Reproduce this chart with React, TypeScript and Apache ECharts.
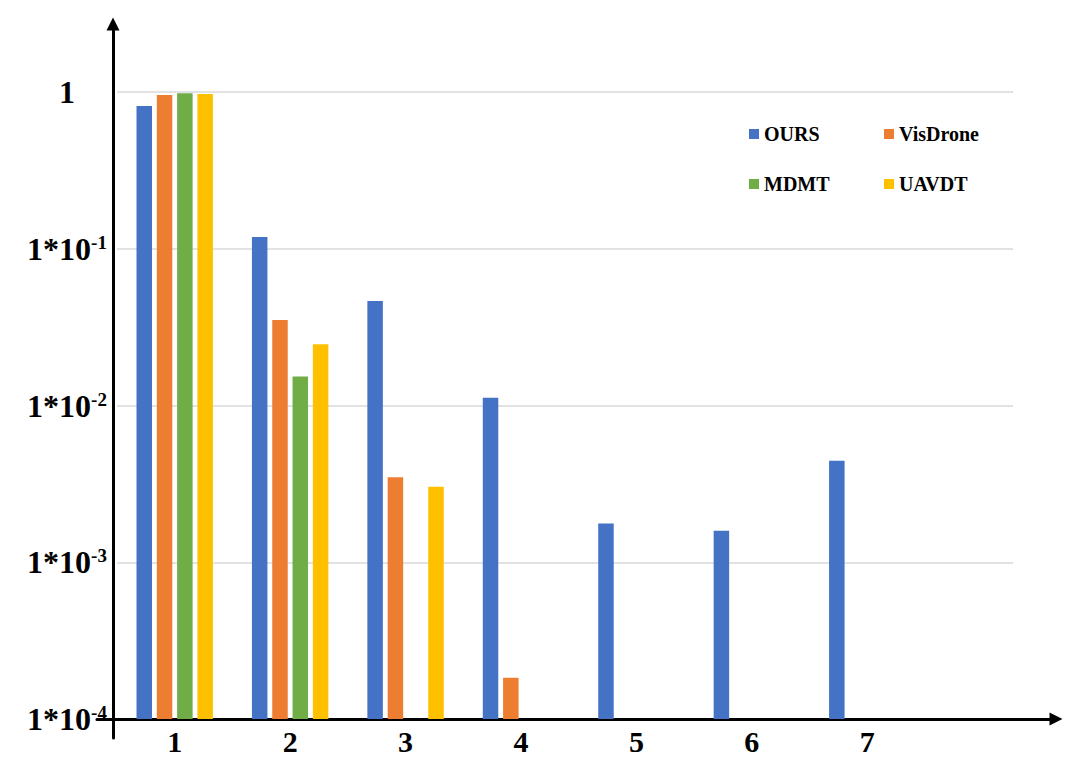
import React, { useEffect, useRef } from "react";
import * as echarts from "echarts";

const categories = ["1", "2", "3", "4", "5", "6", "7"];
const seriesNames = ["OURS", "VisDrone", "MDMT", "UAVDT"];
const oursValues = [0.814, 0.119, 0.0464, 0.0112, 0.00177, 0.00159, 0.00444];
const visdroneValues = [0.957, 0.0351, 0.00348, 0.000183, null, null, null];
const mdmtValues = [0.981, 0.0153, null, null, null, null, null];
const uavdtValues = [0.971, 0.0246, 0.00303, null, null, null, null];
const colors = ["#4472C4", "#ED7D31", "#70AD47", "#FFC000"];
const yMin = 0.0001;
const yMax = 1;

const FONT = "'Liberation Serif', 'Times New Roman', serif";

export default function App() {
  const ref = useRef<HTMLDivElement>(null);
  useEffect(() => {
    document.body.style.margin = "0";
    if (!ref.current) return;
    const chart = echarts.init(ref.current, null, { renderer: "svg" });
    const values = [oursValues, visdroneValues, mdmtValues, uavdtValues];
    const legendText = { fontFamily: FONT, fontWeight: "bold", fontSize: 20, lineHeight: 20, color: "#000" };
    const option: any = {
      animation: false,
      backgroundColor: "#fff",
      grid: [
        { left: 117, right: 155, top: 92, bottom: 51 },
        { left: 117, right: 67, top: 92, bottom: 51 },
        { left: 113, width: 1, top: 24, bottom: 32 },
        { left: 97, right: 24, top: 718, height: 1 },
      ],
      legend: [
        {
          data: ["OURS", "MDMT"],
          orient: "vertical",
          left: 749,
          top: 124,
          padding: 0,
          itemGap: 30,
          itemWidth: 10,
          itemHeight: 10,
          icon: "rect",
          selectedMode: false,
          textStyle: legendText,
        },
        {
          data: ["VisDrone", "UAVDT"],
          orient: "vertical",
          left: 884,
          top: 124,
          padding: 0,
          itemGap: 30,
          itemWidth: 10,
          itemHeight: 10,
          icon: "rect",
          selectedMode: false,
          textStyle: legendText,
        },
      ],
      xAxis: [
        {
          type: "category",
          gridIndex: 0,
          data: categories,
          axisLine: { show: false },
          axisTick: { show: false },
          axisLabel: { fontFamily: FONT, fontWeight: "bold", fontSize: 30, color: "#000", margin: 7 },
        },
        { type: "value", gridIndex: 1, min: 0, max: 1, show: false },
        { type: "value", gridIndex: 2, min: 0, max: 1, show: false },
        {
          type: "value",
          gridIndex: 3,
          min: 0,
          max: 1,
          axisLine: {
            show: true,
            symbol: ["none", "triangle"],
            symbolSize: [13, 13],
            lineStyle: { color: "#000", width: 3 },
          },
          axisTick: { show: false },
          axisLabel: { show: false },
          splitLine: { show: false },
        },
      ],
      yAxis: [
        {
          type: "log",
          gridIndex: 0,
          logBase: 10,
          min: yMin,
          max: yMax,
          startValue: yMin,
          axisLine: { show: false },
          axisTick: { show: false },
          splitLine: { show: false },
          axisLabel: {
            margin: 50,
            align: "center",
            formatter: (v: number) => {
              const e = Math.round(Math.log10(v));
              if (e === 0) return "{b|1}";
              return "{b|1*10}{s|" + e + "}";
            },
            rich: {
              b: { fontFamily: FONT, fontWeight: "bold", fontSize: 32, color: "#000", lineHeight: 32 },
              s: { fontFamily: FONT, fontWeight: "bold", fontSize: 19, color: "#000", lineHeight: 19, verticalAlign: "top" },
            },
          },
        },
        {
          type: "log",
          gridIndex: 1,
          logBase: 10,
          min: yMin,
          max: yMax,
          axisLine: { show: false },
          axisTick: { show: false },
          axisLabel: { show: false },
          splitLine: { show: true, lineStyle: { color: "#d9d9d9", width: 1.5 } },
        },
        {
          type: "value",
          gridIndex: 2,
          min: 0,
          max: 1,
          axisLine: {
            show: true,
            symbol: ["none", "triangle"],
            symbolSize: [13, 13],
            lineStyle: { color: "#000", width: 3 },
          },
          axisTick: { show: false },
          axisLabel: { show: false },
          splitLine: { show: false },
        },
        { type: "value", gridIndex: 3, min: 0, max: 1, show: false },
      ],
      series: seriesNames.map((name, i) => ({
        name,
        type: "bar",
        xAxisIndex: 0,
        yAxisIndex: 0,
        data: values[i],
        barWidth: 15.5,
        barGap: "31%",
        itemStyle: { color: colors[i] },
      })),
    };
    chart.setOption(option);
    return () => chart.dispose();
  }, []);
  return <div ref={ref} style={{ width: 1080, height: 770 }} />;
}
